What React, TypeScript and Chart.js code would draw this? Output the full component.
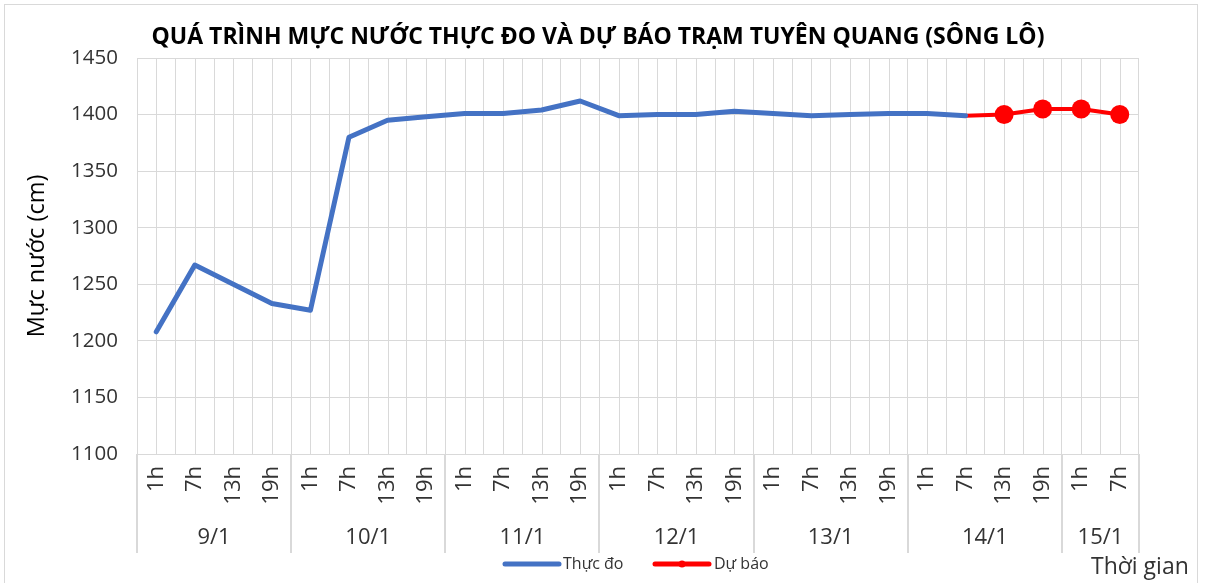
import React, { useEffect, useRef } from 'react';
import { Chart, registerables } from 'chart.js';

Chart.register(...registerables);

const hourLabels = [
  '1h', '7h', '13h', '19h',
  '1h', '7h', '13h', '19h',
  '1h', '7h', '13h', '19h',
  '1h', '7h', '13h', '19h',
  '1h', '7h', '13h', '19h',
  '1h', '7h', '13h', '19h',
  '1h', '7h',
];
const dayLabels = ['9/1', '10/1', '11/1', '12/1', '13/1', '14/1', '15/1'];
const daySpans = [4, 4, 4, 4, 4, 4, 2];

const observed: (number | null)[] = [
  1208, 1267, 1250, 1233,
  1227, 1380, 1395, 1398,
  1401, 1401, 1404, 1412,
  1399, 1400, 1400, 1403,
  1401, 1399, 1400, 1401,
  1401, 1399, null, null,
  null, null,
];
const forecast: (number | null)[] = [
  null, null, null, null,
  null, null, null, null,
  null, null, null, null,
  null, null, null, null,
  null, null, null, null,
  null, 1399, 1400, 1405,
  1405, 1400,
];
const forecastMarkerFrom = 22;

const yMin = 1100;
const yMax = 1450;
const yStep = 50;

const titleText = 'QUÁ TRÌNH MỰC NƯỚC THỰC ĐO VÀ DỰ BÁO TRẠM TUYÊN QUANG (SÔNG LÔ)';
const yTitle = 'Mực nước (cm)';
const xTitle = 'Thời gian';
const legendObserved = 'Thực đo';
const legendForecast = 'Dự báo';

const FONT = '"Open Sans", "Noto Sans", sans-serif';
const TEXT = '#333333';
const GRID = '#d9d9d9';
const BLUE = '#4472C4';
const RED = '#FF0000';

const decorPlugin = {
  id: 'decor',
  beforeDatasetsDraw(chart: any) {
    const { ctx, chartArea, scales } = chart;
    const xs = scales.x;
    ctx.save();
    ctx.strokeStyle = GRID;
    ctx.lineWidth = 1;
    for (let i = 0; i < hourLabels.length; i++) {
      const px = Math.round(xs.getPixelForValue(i)) + 0.5;
      ctx.beginPath();
      ctx.moveTo(px, chartArea.top);
      ctx.lineTo(px, chartArea.bottom);
      ctx.stroke();
    }
    ctx.restore();
  },
  afterDraw(chart: any) {
    const { ctx, chartArea } = chart;
    const n = hourLabels.length;
    const w = (chartArea.right - chartArea.left) / n;
    ctx.save();
    // day separators
    ctx.strokeStyle = GRID;
    ctx.lineWidth = 2;
    let k = 0;
    const bounds = [0];
    daySpans.forEach((s) => { k += s; bounds.push(k); });
    bounds.forEach((b) => {
      const px = Math.round(chartArea.left + b * w);
      ctx.beginPath();
      ctx.moveTo(px, chartArea.bottom);
      ctx.lineTo(px, 553);
      ctx.stroke();
    });
    // day labels
    ctx.fillStyle = TEXT;
    ctx.font = `22px ${FONT}`;
    ctx.textAlign = 'center';
    ctx.textBaseline = 'middle';
    for (let d = 0; d < dayLabels.length; d++) {
      const cx = chartArea.left + ((bounds[d] + bounds[d + 1]) / 2) * w;
      ctx.fillText(dayLabels[d], cx, 538);
    }
    // title
    ctx.fillStyle = '#000000';
    ctx.font = `bold 23px ${FONT}`;
    ctx.textAlign = 'center';
    ctx.fillText(titleText, 598, 37);
    // x title
    ctx.fillStyle = TEXT;
    ctx.font = `23px ${FONT}`;
    ctx.textAlign = 'left';
    ctx.fillText(xTitle, 1091, 567);
    // legend
    ctx.lineCap = 'round';
    ctx.lineWidth = 5;
    ctx.strokeStyle = BLUE;
    ctx.beginPath();
    ctx.moveTo(505, 564);
    ctx.lineTo(559, 564);
    ctx.stroke();
    ctx.strokeStyle = RED;
    ctx.beginPath();
    ctx.moveTo(655, 564);
    ctx.lineTo(709, 564);
    ctx.stroke();
    ctx.fillStyle = RED;
    ctx.beginPath();
    ctx.arc(682, 564, 3.5, 0, Math.PI * 2);
    ctx.fill();
    ctx.fillStyle = TEXT;
    ctx.font = `16px ${FONT}`;
    ctx.textAlign = 'left';
    ctx.fillText(legendObserved, 563, 564);
    ctx.fillText(legendForecast, 714, 564);
    ctx.restore();
  },
};

export default function App() {
  const ref = useRef<HTMLCanvasElement | null>(null);

  useEffect(() => {
    if (!ref.current) return;
    const chart = new Chart(ref.current, {
      type: 'line',
      data: {
        labels: hourLabels,
        datasets: [
          {
            label: legendObserved,
            data: observed,
            borderColor: BLUE,
            backgroundColor: BLUE,
            borderWidth: 5,
            pointRadius: 0,
            pointHoverRadius: 0,
            tension: 0,
            borderJoinStyle: 'round',
            borderCapStyle: 'round',
            spanGaps: false,
          },
          {
            label: legendForecast,
            data: forecast,
            borderColor: RED,
            backgroundColor: RED,
            borderWidth: 4,
            pointRadius: (c: any) => (c.dataIndex >= forecastMarkerFrom ? 9.5 : 0),
            pointBorderWidth: 0,
            pointHoverRadius: 0,
            tension: 0,
            borderJoinStyle: 'round',
            spanGaps: false,
          },
        ],
      },
      options: {
        responsive: false,
        animation: false,
        events: [],
        layout: { padding: { left: 0, right: 70, top: 58, bottom: 0 } },
        plugins: {
          legend: { display: false },
          title: { display: false },
          tooltip: { enabled: false },
        },
        scales: {
          x: {
            type: 'category',
            offset: true,
            grid: { offset: true, color: GRID, lineWidth: 1, drawTicks: false },
            border: { display: true, color: GRID, width: 1 },
            ticks: {
              autoSkip: false,
              maxRotation: 90,
              minRotation: 90,
              padding: 12,
              color: TEXT,
              font: { size: 22, family: FONT },
            },
            afterFit: (s: any) => { s.height = 129; },
          },
          y: {
            min: yMin,
            max: yMax,
            grid: { color: GRID, lineWidth: 1, drawTicks: false },
            border: { display: false },
            ticks: {
              stepSize: yStep,
              padding: 19,
              color: TEXT,
              font: { size: 20.5, family: FONT },
              callback: (v: any) => String(v),
            },
            title: {
              display: true,
              text: yTitle,
              color: '#000000',
              font: { size: 23.5, family: FONT },
              padding: { top: 23, bottom: 0 },
            },
            afterFit: (s: any) => { s.width = 137; },
          },
        },
      },
      plugins: [decorPlugin],
    } as any);
    return () => chart.destroy();
  }, []);

  return (
    <div style={{ position: 'fixed', left: 0, top: 0, width: 1209, height: 583, background: '#ffffff', overflow: 'hidden' }}>
      <div style={{ position: 'absolute', left: 4, top: 4, width: 1194, height: 700, border: `1px solid ${GRID}`, boxSizing: 'border-box' }} />
      <canvas ref={ref} width={1209} height={583} style={{ position: 'absolute', left: 0, top: 0, width: 1209, height: 583 }} />
    </div>
  );
}
